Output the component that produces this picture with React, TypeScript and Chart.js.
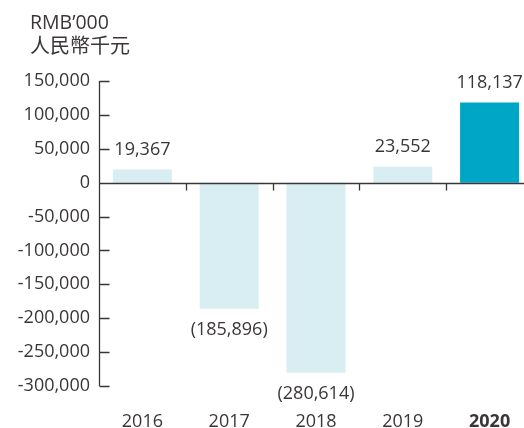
import React, { useEffect, useRef } from 'react';
import { Chart, registerables } from 'chart.js';

Chart.register(...registerables);

const years = ['2016', '2017', '2018', '2019', '2020'];
const profit = [19367, -185896, -280614, 23552, 118137];
const barColors = ['#d9eef3', '#d9eef3', '#d9eef3', '#d9eef3', '#00a6c6'];
const unitLabels = ['RMB’000', '人民幣千元'];
const yMin = -300000;
const yMax = 150000;
const yStep = 50000;

const FONT = '"Open Sans", "Noto Sans CJK TC", sans-serif';
const TEXT = '#3a3637';
const LINE = '#3a3637';

const fmtLabel = (v: number) =>
  v >= 0 ? v.toLocaleString('en-US') : `(${(-v).toLocaleString('en-US')})`;

const titlePlugin = {
  id: 'unitTitle',
  afterDraw(chart: any) {
    const { ctx } = chart;
    ctx.save();
    ctx.fillStyle = TEXT;
    ctx.textAlign = 'left';
    ctx.textBaseline = 'middle';
    ctx.font = `19.5px ${FONT}`;
    ctx.fillText(unitLabels[0], 30, 23);
    ctx.font = `20px ${FONT}`;
    ctx.fillText(unitLabels[1], 30, 47);
    ctx.restore();
  },
};

const axesPlugin = {
  id: 'customAxes',
  afterDatasetsDraw(chart: any) {
    const { ctx, chartArea, scales } = chart;
    const x = scales.x;
    const y = scales.y;
    ctx.save();
    ctx.strokeStyle = LINE;
    ctx.lineWidth = 1.3;
    const left = Math.round(chartArea.left) + 0.5;
    const top = y.getPixelForValue(y.max);
    const bottom = y.getPixelForValue(y.min);
    ctx.beginPath();
    ctx.moveTo(left, top);
    ctx.lineTo(left, bottom);
    y.ticks.forEach((t: any) => {
      const py = Math.round(y.getPixelForValue(t.value)) + 0.5;
      ctx.moveTo(left, py);
      ctx.lineTo(left + 10, py);
    });
    const zero = Math.round(y.getPixelForValue(0)) + 0.5;
    ctx.moveTo(left, zero);
    ctx.lineTo(chartArea.right, zero);
    for (let i = 1; i < years.length; i++) {
      const px = Math.round((x.getPixelForValue(i - 1) + x.getPixelForValue(i)) / 2) + 0.5;
      ctx.moveTo(px, zero);
      ctx.lineTo(px, zero + 7);
    }
    ctx.stroke();
    ctx.restore();
  },
};

const labelPlugin = {
  id: 'barLabels',
  afterDatasetsDraw(chart: any) {
    const { ctx } = chart;
    const meta = chart.getDatasetMeta(0);
    ctx.save();
    ctx.fillStyle = TEXT;
    ctx.font = `18px ${FONT}`;
    ctx.textAlign = 'center';
    ctx.textBaseline = 'middle';
    meta.data.forEach((bar: any, i: number) => {
      const v = profit[i];
      const yPos = v >= 0 ? bar.y - 20 : bar.y + 21;
      ctx.fillText(fmtLabel(v), bar.x, yPos);
    });
    ctx.restore();
  },
};

export default function App() {
  const ref = useRef<HTMLCanvasElement>(null);

  useEffect(() => {
    if (!ref.current) return;
    const chart = new Chart(ref.current, {
      type: 'bar',
      data: {
        labels: years,
        datasets: [
          {
            data: profit,
            backgroundColor: barColors,
            borderWidth: 0,
            barPercentage: 0.68,
            categoryPercentage: 1,
          },
        ],
      },
      options: {
        responsive: false,
        animation: false,
        devicePixelRatio: 1,
        layout: { padding: { top: 81, right: 7, left: 0, bottom: 0 } },
        plugins: {
          legend: { display: false },
          tooltip: { enabled: false },
        },
        scales: {
          x: {
            grid: { display: false, drawTicks: false },
            border: { display: false },
            ticks: {
              color: TEXT,
              padding: 25,
              font: (c: any) => ({
                family: FONT,
                size: 18,
                weight: c.index === years.length - 1 ? 'bold' : 'normal',
              }),
            },
            afterFit: (s: any) => {
              s.height = 42;
            },
          },
          y: {
            min: yMin,
            max: yMax,
            grid: { display: false, drawTicks: false },
            border: { display: false },
            ticks: {
              stepSize: yStep,
              color: TEXT,
              padding: 9,
              font: { family: FONT, size: 18 },
              callback: (v: any) => Number(v).toLocaleString('en-US'),
            },
            afterFit: (s: any) => {
              s.width = 99;
            },
          },
        },
      },
      plugins: [titlePlugin, axesPlugin, labelPlugin],
    });
    return () => chart.destroy();
  }, []);

  return (
    <div
      style={{
        position: 'fixed',
        left: 0,
        top: 0,
        width: 524,
        height: 428,
        overflow: 'hidden',
        background: '#fff',
      }}
    >
      <canvas ref={ref} width={540} height={428} style={{ display: 'block' }} />
    </div>
  );
}
